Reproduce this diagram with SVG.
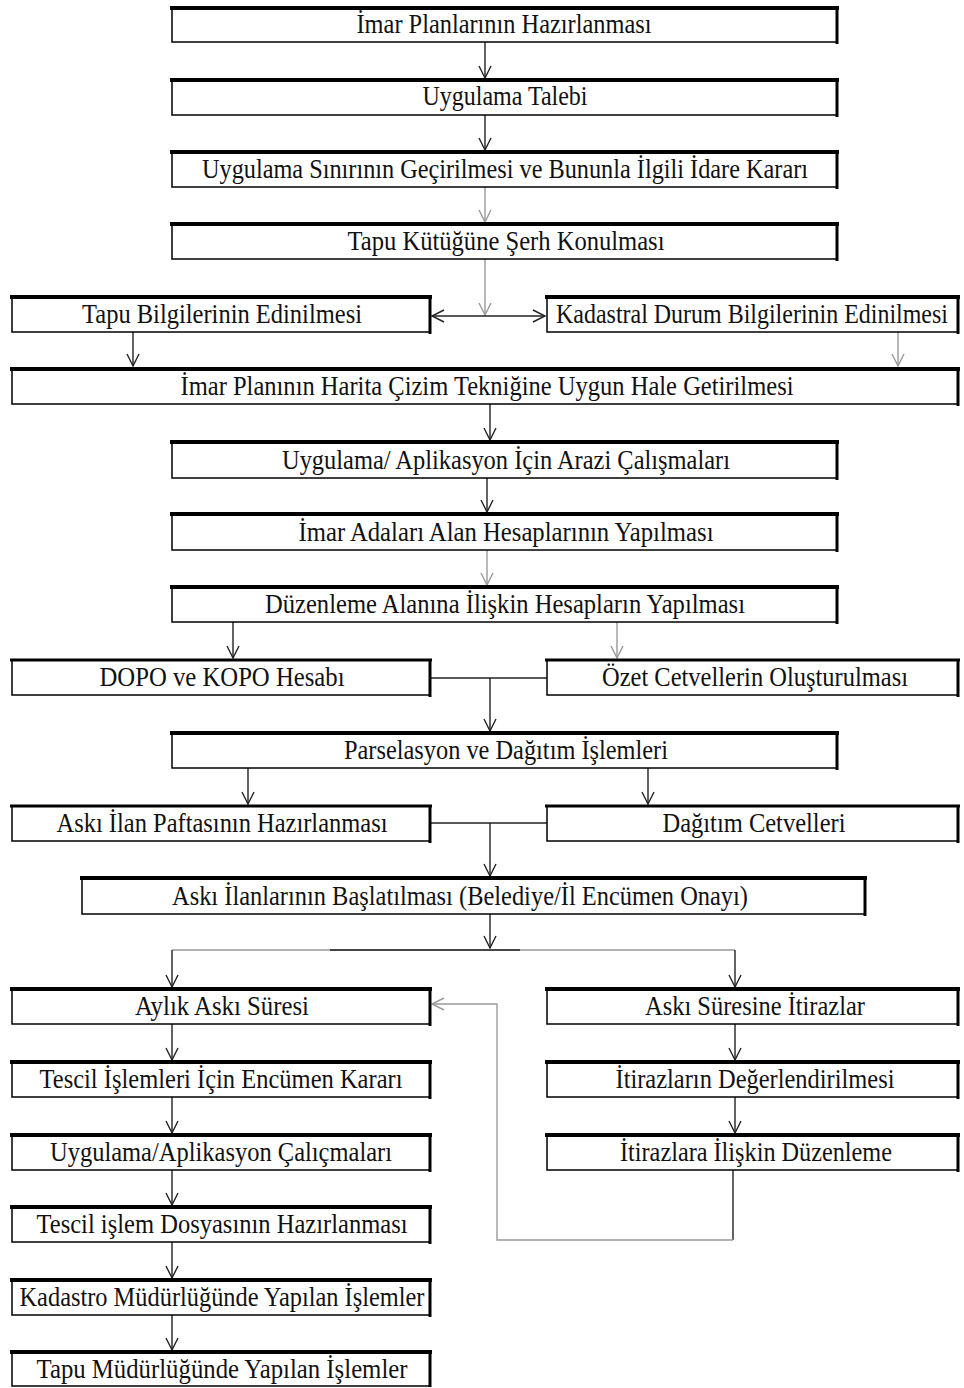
<svg xmlns="http://www.w3.org/2000/svg" width="964" height="1388" viewBox="0 0 964 1388">
<style>
.bx{fill:#fff;stroke:#000;stroke-width:1.5}
.ed{fill:none;stroke:#000}
.t{font-family:"Liberation Serif","Times New Roman",serif;font-size:28px;fill:#111;text-anchor:middle}
.c{fill:none;stroke:#222;stroke-width:1.4}
.g{fill:none;stroke:#999;stroke-width:1.4}
</style>
<defs>
<marker id="a" markerUnits="userSpaceOnUse" markerWidth="14" markerHeight="14" refX="12" refY="7" orient="auto-start-reverse" viewBox="0 0 14 14" overflow="visible"><path d="M0,1 L12,7 L0,13" fill="none" stroke="#222" stroke-width="1.4"/></marker>
<marker id="ag" markerUnits="userSpaceOnUse" markerWidth="14" markerHeight="14" refX="12" refY="7" orient="auto-start-reverse" viewBox="0 0 14 14" overflow="visible"><path d="M0,1 L12,7 L0,13" fill="none" stroke="#999" stroke-width="1.4"/></marker>
</defs>
<rect width="964" height="1388" fill="#fff"/>

<g id="connectors">
<path class="c" d="M485,42 V78" marker-end="url(#a)"/>
<path class="c" d="M485,115 V150" marker-end="url(#a)"/>
<path class="g" d="M485,187 V222" marker-end="url(#ag)"/>
<path class="g" d="M485,259 V315" marker-end="url(#ag)"/>
<path class="c" d="M432,316 H545" marker-start="url(#a)" marker-end="url(#a)"/>
<path class="c" d="M133,332 V366" marker-end="url(#a)"/>
<path class="g" d="M898,322 V366" marker-end="url(#ag)"/>
<path class="c" d="M490,404 V440" marker-end="url(#a)"/>
<path class="c" d="M487,478 V512" marker-end="url(#a)"/>
<path class="g" d="M487,550 V585" marker-end="url(#ag)"/>
<path class="c" d="M233,622 V658" marker-end="url(#a)"/>
<path class="g" d="M617,614 V658" marker-end="url(#ag)"/>
<path class="c" d="M430,678 H547"/>
<path class="c" d="M490,678 V731" marker-end="url(#a)"/>
<path class="c" d="M248,768 V804" marker-end="url(#a)"/>
<path class="c" d="M648,762 V804" marker-end="url(#a)"/>
<path class="c" d="M430,823 H547"/>
<path class="c" d="M490,823 V876" marker-end="url(#a)"/>
<path class="c" d="M490,914 V948" marker-end="url(#a)"/>
<path class="g" d="M172,950 H735"/>
<path class="c" d="M330,950 H520"/>
<path class="c" d="M172,950 V987" marker-end="url(#a)"/>
<path class="c" d="M735,950 V987" marker-end="url(#a)"/>
<path class="c" d="M172,1024 V1060" marker-end="url(#a)"/>
<path class="c" d="M172,1097 V1133" marker-end="url(#a)"/>
<path class="c" d="M172,1170 V1205" marker-end="url(#a)"/>
<path class="c" d="M172,1242 V1278" marker-end="url(#a)"/>
<path class="c" d="M172,1315 V1350" marker-end="url(#a)"/>
<path class="c" d="M735,1024 V1060" marker-end="url(#a)"/>
<path class="c" d="M735,1097 V1133" marker-end="url(#a)"/>
<path class="c" d="M733,1170 V1240"/>
<path class="g" d="M733,1240 H497 V1004 H432" marker-end="url(#ag)"/>
</g>

<g id="n1"><rect class="bx" x="172" y="8" width="665" height="34"/><path class="ed" stroke-width="4" d="M170,8 H839"/><path class="ed" stroke-width="3" d="M837,8 V44"/><text class="t" x="504" y="33" textLength="295" lengthAdjust="spacingAndGlyphs">İmar Planlarının Hazırlanması</text></g>
<g id="n2"><rect class="bx" x="172" y="80" width="665" height="35"/><path class="ed" stroke-width="4" d="M170,80 H839"/><path class="ed" stroke-width="3" d="M837,80 V117"/><text class="t" x="505" y="105" textLength="165" lengthAdjust="spacingAndGlyphs">Uygulama Talebi</text></g>
<g id="n3"><rect class="bx" x="172" y="152" width="665" height="35"/><path class="ed" stroke-width="4" d="M170,152 H839"/><path class="ed" stroke-width="3" d="M837,152 V189"/><text class="t" x="505" y="178" textLength="606" lengthAdjust="spacingAndGlyphs">Uygulama Sınırının Geçirilmesi ve Bununla İlgili İdare Kararı</text></g>
<g id="n4"><rect class="bx" x="172" y="224" width="665" height="35"/><path class="ed" stroke-width="4" d="M170,224 H839"/><path class="ed" stroke-width="3" d="M837,224 V261"/><text class="t" x="506" y="250" textLength="317" lengthAdjust="spacingAndGlyphs">Tapu Kütüğüne Şerh Konulması</text></g>
<g id="n5a"><rect class="bx" x="12" y="297" width="418" height="35"/><path class="ed" stroke-width="4" d="M10,297 H432"/><path class="ed" stroke-width="3" d="M430,297 V334"/><text class="t" x="222" y="323" textLength="280" lengthAdjust="spacingAndGlyphs">Tapu Bilgilerinin Edinilmesi</text></g>
<g id="n5b"><rect class="bx" x="547" y="297" width="411" height="35"/><path class="ed" stroke-width="4" d="M545,297 H960"/><path class="ed" stroke-width="3" d="M958,297 V334"/><text class="t" x="948" y="323" textLength="392" lengthAdjust="spacingAndGlyphs" style="text-anchor:end">Kadastral Durum Bilgilerinin Edinilmesi</text></g>
<g id="n6"><rect class="bx" x="12" y="369" width="946" height="35"/><path class="ed" stroke-width="4" d="M10,369 H960"/><path class="ed" stroke-width="3" d="M958,369 V406"/><text class="t" x="487" y="395" textLength="613" lengthAdjust="spacingAndGlyphs">İmar Planının Harita Çizim Tekniğine Uygun Hale Getirilmesi</text></g>
<g id="n7"><rect class="bx" x="172" y="442" width="665" height="36"/><path class="ed" stroke-width="4" d="M170,442 H839"/><path class="ed" stroke-width="3" d="M837,442 V480"/><text class="t" x="506" y="469" textLength="448" lengthAdjust="spacingAndGlyphs">Uygulama/ Aplikasyon İçin Arazi Çalışmaları</text></g>
<g id="n8"><rect class="bx" x="172" y="514" width="665" height="36"/><path class="ed" stroke-width="4" d="M170,514 H839"/><path class="ed" stroke-width="3" d="M837,514 V552"/><text class="t" x="506" y="541" textLength="415" lengthAdjust="spacingAndGlyphs">İmar Adaları Alan Hesaplarının Yapılması</text></g>
<g id="n9"><rect class="bx" x="172" y="587" width="665" height="35"/><path class="ed" stroke-width="4" d="M170,587 H839"/><path class="ed" stroke-width="3" d="M837,587 V624"/><text class="t" x="505" y="613" textLength="480" lengthAdjust="spacingAndGlyphs">Düzenleme Alanına İlişkin Hesapların Yapılması</text></g>
<g id="n10a"><rect class="bx" x="12" y="660" width="418" height="35"/><path class="ed" stroke-width="3" d="M10,660 H432"/><path class="ed" stroke-width="3" d="M430,660 V697"/><text class="t" x="222" y="686" textLength="245" lengthAdjust="spacingAndGlyphs">DOPO ve KOPO Hesabı</text></g>
<g id="n10b"><rect class="bx" x="547" y="660" width="411" height="35"/><path class="ed" stroke-width="3" d="M545,660 H960"/><path class="ed" stroke-width="3" d="M958,660 V697"/><text class="t" x="755" y="686" textLength="306" lengthAdjust="spacingAndGlyphs">Özet Cetvellerin Oluşturulması</text></g>
<g id="n11"><rect class="bx" x="172" y="733" width="665" height="35"/><path class="ed" stroke-width="4" d="M170,733 H839"/><path class="ed" stroke-width="3" d="M837,733 V770"/><text class="t" x="506" y="759" textLength="324" lengthAdjust="spacingAndGlyphs">Parselasyon ve Dağıtım İşlemleri</text></g>
<g id="n12a"><rect class="bx" x="12" y="806" width="418" height="35"/><path class="ed" stroke-width="3" d="M10,806 H432"/><path class="ed" stroke-width="3" d="M430,806 V843"/><text class="t" x="222" y="832" textLength="331" lengthAdjust="spacingAndGlyphs">Askı İlan Paftasının Hazırlanması</text></g>
<g id="n12b"><rect class="bx" x="547" y="806" width="411" height="35"/><path class="ed" stroke-width="3" d="M545,806 H960"/><path class="ed" stroke-width="3" d="M958,806 V843"/><text class="t" x="754" y="832" textLength="183" lengthAdjust="spacingAndGlyphs">Dağıtım Cetvelleri</text></g>
<g id="n13"><rect class="bx" x="82" y="878" width="783" height="36"/><path class="ed" stroke-width="4" d="M80,878 H867"/><path class="ed" stroke-width="3" d="M865,878 V916"/><text class="t" x="460" y="905" textLength="576" lengthAdjust="spacingAndGlyphs">Askı İlanlarının Başlatılması (Belediye/İl Encümen Onayı)</text></g>
<g id="n14a"><rect class="bx" x="12" y="989" width="418" height="35"/><path class="ed" stroke-width="4" d="M10,989 H432"/><path class="ed" stroke-width="3" d="M430,989 V1026"/><text class="t" x="222" y="1015" textLength="174" lengthAdjust="spacingAndGlyphs">Aylık Askı Süresi</text></g>
<g id="n14b"><rect class="bx" x="547" y="989" width="411" height="35"/><path class="ed" stroke-width="4" d="M545,989 H960"/><path class="ed" stroke-width="3" d="M958,989 V1026"/><text class="t" x="755" y="1015" textLength="220" lengthAdjust="spacingAndGlyphs">Askı Süresine İtirazlar</text></g>
<g id="n15a"><rect class="bx" x="12" y="1062" width="418" height="35"/><path class="ed" stroke-width="4" d="M10,1062 H432"/><path class="ed" stroke-width="3" d="M430,1062 V1099"/><text class="t" x="221" y="1088" textLength="363" lengthAdjust="spacingAndGlyphs">Tescil İşlemleri İçin Encümen Kararı</text></g>
<g id="n15b"><rect class="bx" x="547" y="1062" width="411" height="35"/><path class="ed" stroke-width="4" d="M545,1062 H960"/><path class="ed" stroke-width="3" d="M958,1062 V1099"/><text class="t" x="755" y="1088" textLength="279" lengthAdjust="spacingAndGlyphs">İtirazların Değerlendirilmesi</text></g>
<g id="n16a"><rect class="bx" x="12" y="1135" width="418" height="35"/><path class="ed" stroke-width="4" d="M10,1135 H432"/><path class="ed" stroke-width="3" d="M430,1135 V1172"/><text class="t" x="221" y="1161" textLength="342" lengthAdjust="spacingAndGlyphs">Uygulama/Aplikasyon Çalıçmaları</text></g>
<g id="n16b"><rect class="bx" x="547" y="1135" width="411" height="35"/><path class="ed" stroke-width="4" d="M545,1135 H960"/><path class="ed" stroke-width="3" d="M958,1135 V1172"/><text class="t" x="756" y="1161" textLength="272" lengthAdjust="spacingAndGlyphs">İtirazlara İlişkin Düzenleme</text></g>
<g id="n17"><rect class="bx" x="12" y="1207" width="418" height="35"/><path class="ed" stroke-width="4" d="M10,1207 H432"/><path class="ed" stroke-width="3" d="M430,1207 V1244"/><text class="t" x="222" y="1233" textLength="371" lengthAdjust="spacingAndGlyphs">Tescil işlem Dosyasının Hazırlanması</text></g>
<g id="n18"><rect class="bx" x="12" y="1280" width="418" height="35"/><path class="ed" stroke-width="4" d="M10,1280 H432"/><path class="ed" stroke-width="3" d="M430,1280 V1317"/><text class="t" x="222" y="1306" textLength="405" lengthAdjust="spacingAndGlyphs">Kadastro Müdürlüğünde Yapılan İşlemler</text></g>
<g id="n19"><rect class="bx" x="12" y="1352" width="418" height="34"/><path class="ed" stroke-width="4" d="M10,1352 H432"/><path class="ed" stroke-width="3" d="M430,1352 V1387"/><text class="t" x="222" y="1378" textLength="371" lengthAdjust="spacingAndGlyphs">Tapu Müdürlüğünde Yapılan İşlemler</text></g>
</svg>
